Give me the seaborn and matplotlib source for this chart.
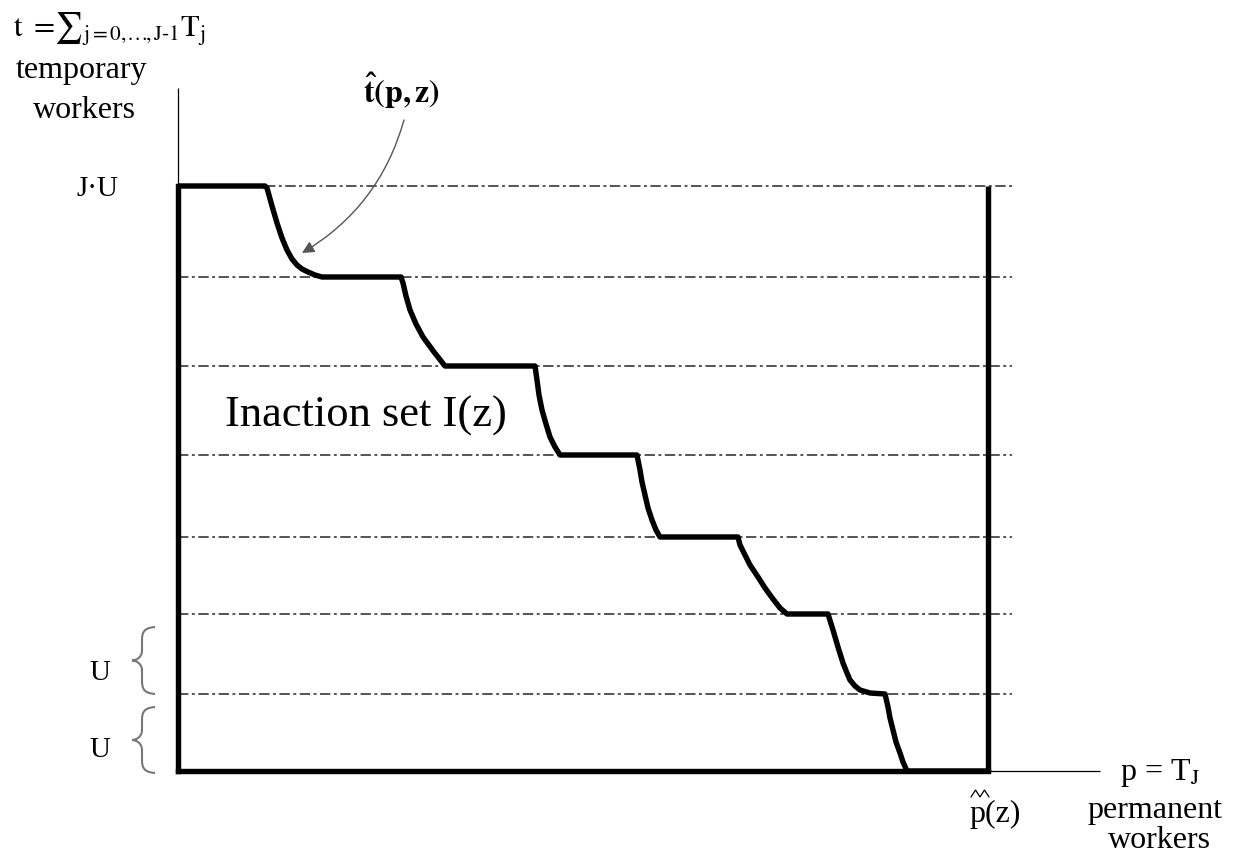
import matplotlib
matplotlib.use("Agg")
import matplotlib.pyplot as plt
import seaborn as sns
import pandas as pd
from matplotlib.path import Path
from matplotlib.patches import PathPatch

# ---------------- data (units: p = permanent workers, t = temporary workers) -------------
t_levels = [0, 77, 157, 234, 316, 405, 494, 585]      # k·U, top one = J·U
p_hat = 810                                             # \hat{\hat p}(z)
grid_right = 834                                        # end of dash-dot guide lines
top_guide_start = 87                                    # top guide starts after first step

# inaction-set frontier  t^(p, z)
curve_p = [0, 87, 89, 94, 99, 104, 109, 114, 119, 124, 130, 137, 144, 223, 225, 228, 232,
           238, 245, 256, 267, 357, 359, 361, 364, 368, 372, 377, 382, 459, 462, 464, 467,
           470, 474, 478, 482, 560, 562, 567, 572, 580, 587, 595, 602, 609, 650, 655, 660,
           665, 669, 672, 677, 682, 692, 707, 710, 712, 715, 718, 722, 725, 729, 810]
curve_t = [585, 585, 583, 565, 548, 533, 521, 512, 506, 502, 499, 496, 494, 494, 488, 475,
           461, 447, 434, 419, 405, 405, 391, 376, 361, 347, 334, 324, 316, 316, 301, 289,
           276, 263, 251, 241, 234, 234, 226, 216, 206, 194, 183, 172, 163, 157, 157, 141,
           124, 108, 98, 91, 85, 81, 78, 77, 64, 53, 41, 29, 18, 9, 0, 0]

axis_p_end = 922
axis_t_end = 683

# ---------------- style -------------
sns.set_theme(style="white")
plt.rcParams["font.family"] = ["Liberation Serif", "DejaVu Serif"]
plt.rcParams["mathtext.fontset"] = "stix"
plt.rcParams["text.color"] = "black"

fig = plt.figure(figsize=(12.39, 8.67), dpi=100)
ax = fig.add_axes([0, 0, 1, 1])

# thin coordinate axes
ax.plot([0, 0], [0, axis_t_end], color="black", lw=0.9, solid_capstyle="butt")
ax.plot([0, axis_p_end], [0, 0], color="black", lw=0.9, solid_capstyle="butt")

# dash-dot guide lines at multiples of U
dash = (0, (6.5, 2.2, 1.8, 2.2))
for lvl in t_levels[1:-1]:
    ax.plot([0, grid_right], [lvl, lvl], color="#2e2e2e", lw=1.15, linestyle=dash)
ax.plot([top_guide_start, grid_right], [t_levels[-1], t_levels[-1]],
        color="#2e2e2e", lw=1.15, linestyle=dash)

# thick box sides
thick = 3.9
ax.plot([0, 0], [0, t_levels[-1]], color="black", lw=thick, solid_capstyle="projecting")
ax.plot([0, p_hat], [0, 0], color="black", lw=thick, solid_capstyle="projecting")
ax.plot([p_hat, p_hat], [0, t_levels[-1]], color="black", lw=thick, solid_capstyle="butt")

# frontier
df = pd.DataFrame({"p": curve_p, "t": curve_t})
sns.lineplot(data=df, x="p", y="t", sort=False, estimator=None, color="black",
             lw=thick, ax=ax, solid_joinstyle="round", solid_capstyle="butt")
ax.set_xlim(-178, 1061)
ax.set_ylim(-96, 771)
ax.axis("off")

# braces for U
def brace(t0, t1, xe=-23, xs=-36, xt=-46, color="#777777"):
    tm = (t0 + t1) / 2
    verts = [(xe, t1), (xs + 1, t1 - 1), (xs, t1 - 6), (xs, t1 - 14),
             (xs, tm + 10),
             (xs, tm + 3), (xt + 4, tm), (xt, tm),
             (xt + 4, tm), (xs, tm - 3), (xs, tm - 10),
             (xs, t0 + 14),
             (xs, t0 + 6), (xs + 1, t0 + 1), (xe, t0)]
    codes = [Path.MOVETO, Path.CURVE4, Path.CURVE4, Path.CURVE4,
             Path.LINETO,
             Path.CURVE4, Path.CURVE4, Path.CURVE4,
             Path.CURVE4, Path.CURVE4, Path.CURVE4,
             Path.LINETO,
             Path.CURVE4, Path.CURVE4, Path.CURVE4]
    ax.add_patch(PathPatch(Path(verts, codes), fill=False, edgecolor=color, lw=1.5))

brace(t_levels[1], t_levels[2] - 13)
brace(t_levels[0] - 2, t_levels[1] - 13)

fs = 23
# texts
ax.text(-165, 734,
        r"$\mathrm{t\ {=}}\!{\sum}_{\mathrm{j{=}0,\!\ldots\!,J\text{-}1}}\mathrm{T}_{\mathrm{j}}$",
        fontsize=22, ha="left", va="baseline")
ax.text(-96, 693, "temporary", fontsize=fs, ha="center", va="baseline")
ax.text(-94, 653, "workers", fontsize=fs, ha="center", va="baseline")
ax.text(-81, t_levels[-1] - 10, "J·U", fontsize=21, ha="center", va="baseline")
ax.text(-78, 98, "U", fontsize=21, ha="center", va="center")
ax.text(-78, 21, "U", fontsize=21, ha="center", va="center")

ax.text(47, 344, "Inaction set I(z)", fontsize=32, ha="left", va="baseline")

ax.text(224, 668, r"$\mathbf{\hat{t}(p,z)}$", fontsize=23, ha="center", va="baseline")
ax.annotate("", xy=(124, 518), xytext=(226, 651),
            arrowprops=dict(arrowstyle="-|>", color="#555555", lw=1.0,
                            connectionstyle="arc3,rad=-0.2", mutation_scale=18,
                            shrinkA=0, shrinkB=0))

ax.text(982, -9, r"p = T$_{\mathrm{J}}$", fontsize=fs, ha="center", va="baseline")
ax.text(977, -47, "permanent", fontsize=fs, ha="center", va="baseline")
ax.text(981, -77, "workers", fontsize=fs, ha="center", va="baseline")
ax.text(817, -51, "p(z)", fontsize=fs, ha="center", va="baseline")
# double hat over p, drawn as a small zig-zag
ax.plot([793, 797.5, 802, 806.5, 811], [-26, -19, -26, -19, -26], color="black",
        lw=0.9, solid_joinstyle="miter")

fig.savefig("out.png", dpi=100)
